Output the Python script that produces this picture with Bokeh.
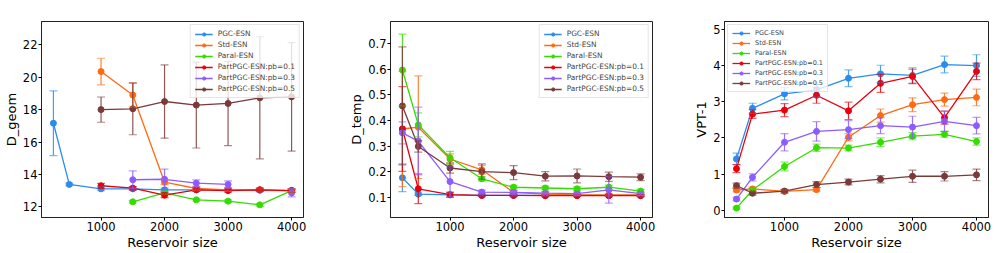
import math
from bokeh.plotting import figure
from bokeh.models import (Range1d, Whisker, ColumnDataSource, TeeHead, Legend,
                          LegendItem, FixedTicker)
from bokeh.layouts import row
from bokeh.embed import file_html
from bokeh.resources import INLINE

nan = float("nan")

# ---------------- data ----------------
reservoir_sizes = [250, 500, 1000, 1500, 2000, 2500, 3000, 3500, 4000]
series_names = ["PGC-ESN", "Std-ESN", "Paral-ESN",
                "PartPGC-ESN:pb=0.1", "PartPGC-ESN:pb=0.3", "PartPGC-ESN:pb=0.5"]
series_colors = ["#2b8cee", "#ff6a12", "#33dd00", "#e8000b", "#8c5cff", "#7b3a3a"]

# D_geom
geom_pgc = [17.16, 13.38, 13.11, 13.11, 13.05, 13.05, 13.05, 13.02, 13.0]
geom_pgc_err = [2.0, 0.08, 0.12, 0.1, 0.1, 0.1, 0.1, 0.1, 0.1]
geom_std = [nan, nan, 20.35, 18.9, 13.52, 13.13, 13.05, 13.05, 13.0]
geom_std_err = [nan, nan, 0.82, 0.74, 0.15, 0.1, 0.1, 0.1, 0.1]
geom_paral = [nan, nan, nan, 12.31, 12.86, 12.43, 12.35, 12.12, 13.0]
geom_paral_err = [nan, nan, nan, 0.08, 0.08, 0.08, 0.08, 0.08, 0.08]
geom_pb01 = [nan, nan, 13.3, 13.15, 12.72, 13.05, 13.0, 13.05, 13.0]
geom_pb01_err = [nan, nan, 0.15, 0.1, 0.15, 0.1, 0.1, 0.1, 0.1]
geom_pb03 = [nan, nan, nan, 13.67, 13.7, 13.46, 13.38, nan, 12.86]
geom_pb03_err = [nan, nan, nan, 0.55, 0.63, 0.2, 0.22, nan, 0.25]
geom_pb05 = [nan, nan, 18.0, 18.05, 18.5, 18.28, 18.38, 18.73, 18.79]
geom_pb05_err = [nan, nan, 0.78, 1.6, 2.26, 2.65, 2.6, 3.77, 3.35]

# D_temp
temp_pgc = [0.177, 0.113, 0.110, 0.108, 0.108, 0.108, 0.108, 0.108, 0.108]
temp_pgc_err = [0.054, 0.005, 0.008, 0.004, 0.004, 0.004, 0.004, 0.004, 0.004]
temp_std = [0.367, 0.374, 0.25, 0.208, 0.12, 0.113, 0.11, 0.11, 0.11]
temp_std_err = [0.225, 0.2, 0.02, 0.017, 0.005, 0.004, 0.004, 0.004, 0.004]
temp_paral = [0.597, 0.383, 0.255, 0.173, 0.14, 0.137, 0.134, 0.14, 0.125]
temp_paral_err = [0.14, 0.047, 0.025, 0.008, 0.007, 0.007, 0.007, 0.008, 0.007]
temp_pb01 = [0.367, 0.134, 0.111, 0.108, 0.108, 0.107, 0.107, 0.107, 0.107]
temp_pb01_err = [0.165, 0.058, 0.01, 0.005, 0.005, 0.004, 0.004, 0.004, 0.004]
temp_pb03 = [0.352, 0.32, 0.162, 0.121, 0.12, 0.117, 0.115, 0.13, 0.115]
temp_pb03_err = [0.043, 0.132, 0.06, 0.008, 0.008, 0.006, 0.006, 0.052, 0.006]
temp_pb05 = [0.457, 0.299, 0.215, 0.201, 0.197, 0.183, 0.184, 0.181, 0.179]
temp_pb05_err = [0.23, 0.022, 0.02, 0.03, 0.027, 0.018, 0.027, 0.018, 0.013]

# VPT-1
vpt_pgc = [1.42, 2.82, 3.22, 3.33, 3.65, 3.77, 3.73, 4.03, 4.0]
vpt_pgc_err = [0.16, 0.14, 0.17, 0.2, 0.23, 0.24, 0.21, 0.23, 0.3]
vpt_std = [0.56, 0.59, 0.52, 0.57, 2.02, 2.62, 2.92, 3.06, 3.12]
vpt_std_err = [0.05, 0.05, 0.05, 0.05, 0.1, 0.18, 0.19, 0.18, 0.23]
vpt_paral = [0.06, 0.56, 1.21, 1.73, 1.72, 1.88, 2.05, 2.1, 1.9]
vpt_paral_err = [0.03, 0.04, 0.12, 0.1, 0.08, 0.12, 0.1, 0.08, 0.1]
vpt_pb01 = [1.15, 2.66, 2.77, 3.18, 2.75, 3.51, 3.70, 2.56, 3.84]
vpt_pb01_err = [0.11, 0.12, 0.18, 0.22, 0.24, 0.25, 0.2, 0.18, 0.23]
vpt_pb03 = [0.31, 0.91, 1.88, 2.18, 2.23, 2.34, 2.30, 2.46, 2.34]
vpt_pb03_err = [0.05, 0.1, 0.24, 0.27, 0.25, 0.22, 0.3, 0.28, 0.23]
vpt_pb05 = [0.68, 0.47, 0.53, 0.71, 0.78, 0.86, 0.94, 0.94, 0.98]
vpt_pb05_err = [0.07, 0.05, 0.05, 0.08, 0.08, 0.1, 0.17, 0.13, 0.16]

x_ticks = [1000, 2000, 3000, 4000]
geom_ticks = [12, 14, 16, 18, 20, 22]
temp_ticks = [0.1, 0.2, 0.3, 0.4, 0.5, 0.6, 0.7]
vpt_ticks = [0, 1, 2, 3, 4, 5]

FONT = "DejaVu Sans"


def make_panel(ylabel, values, errors, y_range, y_ticks, legend_loc,
               width, border_left, border_right, legend_font):
    p = figure(width=width, height=253, output_backend="svg", toolbar_location=None,
               x_range=Range1d(62.5, 4187.5), y_range=Range1d(*y_range),
               min_border_left=border_left, min_border_right=border_right,
               min_border_top=21, min_border_bottom=36)
    p.grid.visible = False
    p.outline_line_color = "#222222"
    p.outline_line_width = 1
    p.outline_line_alpha = 1
    for ax in (p.xaxis[0], p.yaxis[0]):
        ax.axis_line_color = "#222222"
        ax.major_tick_in = 0
        ax.major_tick_out = 3
        ax.minor_tick_out = 0
        ax.minor_tick_in = 0
        ax.major_label_text_font = FONT
        ax.major_label_text_font_size = "11.5px"
        ax.major_label_text_color = "black"
        ax.major_label_standoff = 1
        ax.axis_label_text_font = FONT
        ax.axis_label_text_font_size = "13px"
        ax.axis_label_text_font_style = "normal"
        ax.axis_label_text_color = "black"
        ax.axis_label_standoff = 1
    p.xaxis.ticker = FixedTicker(ticks=x_ticks)
    p.yaxis.ticker = FixedTicker(ticks=y_ticks)
    p.xaxis.axis_label = "Reservoir size"
    p.yaxis.axis_label = ylabel

    items = []
    for name, color, ys, es in zip(series_names, series_colors, values, errors):
        xs_ok = [x for x, y in zip(reservoir_sizes, ys) if not math.isnan(y)]
        ys_ok = [y for y in ys if not math.isnan(y)]
        es_ok = [e for y, e in zip(ys, es) if not math.isnan(y)]
        src = ColumnDataSource(dict(x=xs_ok, y=ys_ok,
                                    lo=[y - e for y, e in zip(ys_ok, es_ok)],
                                    hi=[y + e for y, e in zip(ys_ok, es_ok)]))
        w = Whisker(base="x", lower="lo", upper="hi", source=src, level="glyph",
                    line_color=color, line_width=1.2, line_alpha=0.85,
                    upper_head=TeeHead(size=8, line_color=color, line_width=1.2, line_alpha=0.6),
                    lower_head=TeeHead(size=8, line_color=color, line_width=1.2, line_alpha=0.6))
        p.add_layout(w)
        r_line = p.line(reservoir_sizes, ys, line_color=color, line_width=1.3)
        r_pts = p.scatter("x", "y", source=src, size=6, fill_color=color,
                          line_color=color)
        items.append(LegendItem(label=name, renderers=[r_line, r_pts]))

    leg = Legend(items=items, location=legend_loc)
    leg.label_text_font = FONT
    leg.label_text_font_size = legend_font
    leg.label_height = 8
    leg.glyph_height = 8
    leg.glyph_width = 18
    leg.spacing = 2
    leg.padding = 4
    leg.margin = 3
    leg.label_standoff = 5
    leg.border_line_color = "#cccccc"
    leg.border_line_width = 1
    leg.background_fill_alpha = 0.8
    p.add_layout(leg)
    return p


p1 = make_panel("D_geom",
                [geom_pgc, geom_std, geom_paral, geom_pb01, geom_pb03, geom_pb05],
                [geom_pgc_err, geom_std_err, geom_paral_err, geom_pb01_err, geom_pb03_err, geom_pb05_err],
                (11.34, 23.44), geom_ticks, "top_right", 346, 40, 43, "7.4px")
p2 = make_panel("D_temp",
                [temp_pgc, temp_std, temp_paral, temp_pb01, temp_pb03, temp_pb05],
                [temp_pgc_err, temp_std_err, temp_paral_err, temp_pb01_err, temp_pb03_err, temp_pb05_err],
                (0.022, 0.786), temp_ticks, "top_right", 345, 42, 39, "7.4px")
p3 = make_panel("VPT-1",
                [vpt_pgc, vpt_std, vpt_paral, vpt_pb01, vpt_pb03, vpt_pb05],
                [vpt_pgc_err, vpt_std_err, vpt_paral_err, vpt_pb01_err, vpt_pb03_err, vpt_pb05_err],
                (-0.2, 5.22), vpt_ticks, "top_left", 305, 33, 8, "6.5px")

layout = row(p1, p2, p3, spacing=0)
open("out.html", "w").write(file_html(layout, INLINE))
